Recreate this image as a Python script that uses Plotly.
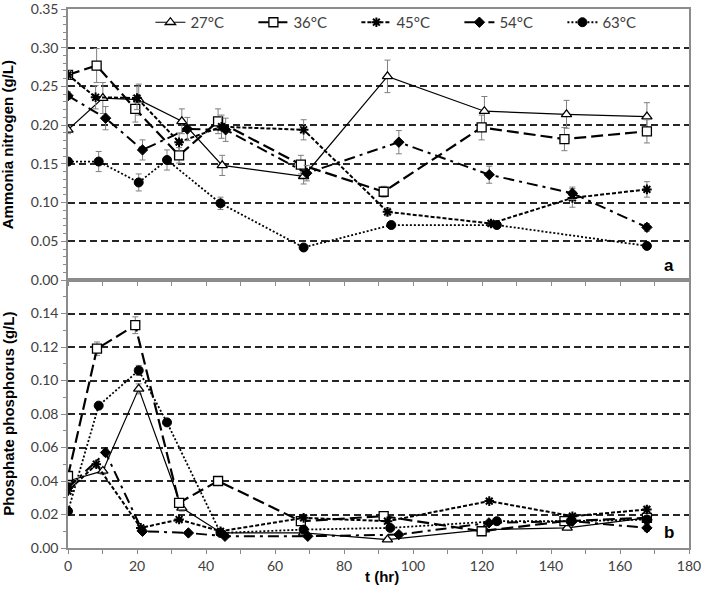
import plotly.graph_objects as go

# ---------------- data ----------------
series_names = ["27°C", "36°C", "45°C", "54°C", "63°C"]

# Ammonia nitrogen (g/L) - panel a
t_nh_27 = [0, 10.1, 20.5, 33, 44.7, 68.3, 92.6, 120.7, 144.5, 167.8]
nh_27 = [0.194, 0.235, 0.233, 0.205, 0.148, 0.134, 0.263, 0.218, 0.214, 0.211]
nh_27_err = [0.005, 0.020, 0.020, 0.016, 0.013, 0.010, 0.021, 0.019, 0.018, 0.018]

t_nh_36 = [0, 8.3, 19.5, 32.2, 43.5, 67.5, 91.5, 119.9, 143.9, 167.8]
nh_36 = [0.265, 0.277, 0.221, 0.161, 0.205, 0.149, 0.114, 0.197, 0.182, 0.192]
nh_36_err = [0.005, 0.022, 0.017, 0.010, 0.016, 0.012, 0.007, 0.016, 0.015, 0.015]

t_nh_45 = [0, 8, 20, 32.2, 44.5, 68.3, 92.6, 122.6, 146.2, 167.8]
nh_45 = [0.265, 0.236, 0.235, 0.178, 0.198, 0.194, 0.088, 0.073, 0.106, 0.117]
nh_45_err = [0.005, 0.015, 0.015, 0.012, 0.015, 0.013, 0.005, 0.004, 0.012, 0.010]

t_nh_54 = [0, 10.9, 21.6, 34.6, 45.7, 69.2, 95.9, 122.1, 146.2, 167.8]
nh_54 = [0.238, 0.209, 0.168, 0.195, 0.194, 0.138, 0.178, 0.136, 0.112, 0.068]
nh_54_err = [0.005, 0.015, 0.013, 0.015, 0.015, 0.010, 0.015, 0.011, 0.008, 0.005]

t_nh_63 = [0, 8.9, 20.5, 28.7, 44.2, 68.3, 93.7, 124.3, 167.8]
nh_63 = [0.153, 0.153, 0.126, 0.155, 0.099, 0.042, 0.071, 0.071, 0.044]
nh_63_err = [0.004, 0.013, 0.011, 0.013, 0.008, 0.003, 0.003, 0.003, 0.003]

# Phosphate phosphorus (g/L) - panel b
t_p_27 = [0, 10.1, 20.5, 33, 44.5, 68.3, 92.6, 120.7, 144.7, 167.8]
p_27 = [0.040, 0.046, 0.095, 0.024, 0.009, 0.009, 0.005, 0.011, 0.012, 0.018]
p_27_err = [0.002, 0.002, 0.003, 0.002, 0.001, 0.001, 0.001, 0.001, 0.001, 0.002]

t_p_36 = [0, 8.4, 19.5, 32.2, 43.5, 67.5, 91.5, 119.9, 143.9, 167.8]
p_36 = [0.043, 0.119, 0.133, 0.027, 0.040, 0.016, 0.019, 0.010, 0.016, 0.018]
p_36_err = [0.002, 0.004, 0.005, 0.002, 0.001, 0.001, 0.001, 0.001, 0.001, 0.002]

t_p_45 = [0, 8.2, 21.1, 32.2, 44.2, 68.3, 92.6, 122.1, 146.2, 167.8]
p_45 = [0.034, 0.050, 0.012, 0.017, 0.010, 0.018, 0.016, 0.028, 0.019, 0.023]
p_45_err = [0.002, 0.002, 0.001, 0.001, 0.001, 0.001, 0.001, 0.001, 0.001, 0.002]

t_p_54 = [0, 10.9, 21.6, 34.9, 45.5, 69.5, 95.9, 122, 146.2, 167.8]
p_54 = [0.036, 0.057, 0.010, 0.009, 0.007, 0.007, 0.008, 0.015, 0.016, 0.012]
p_54_err = [0.002, 0.002, 0.001, 0.001, 0.001, 0.001, 0.001, 0.001, 0.001, 0.002]

t_p_63 = [0, 8.9, 20.5, 28.7, 44.2, 68.3, 93.4, 124.3, 145.7, 167.8]
p_63 = [0.022, 0.085, 0.106, 0.075, 0.009, 0.011, 0.012, 0.016, 0.016, 0.017]
p_63_err = [0.002, 0.002, 0.003, 0.002, 0.001, 0.001, 0.001, 0.001, 0.001, 0.002]

x_tick_vals = [0, 20, 40, 60, 80, 100, 120, 140, 160, 180]
nh_tick_vals = [0.00, 0.05, 0.10, 0.15, 0.20, 0.25, 0.30, 0.35]
p_tick_vals = [0.00, 0.02, 0.04, 0.06, 0.08, 0.10, 0.12, 0.14]

# ---------------- styles ----------------
styles = [
    dict(dash="solid", width=1.2, symbol="triangle-up-open", size=9, mwidth=1.3),
    dict(dash="12px,5px", width=2.2, symbol="square-open", size=9, mwidth=1.3),
    dict(dash="4px,2px", width=2.0, symbol="asterisk-open", size=8, mwidth=2),
    dict(dash="11px,5px,3px,5px", width=2.0, symbol="diamond", size=8, mwidth=1),
    dict(dash="2px,2px", width=1.8, symbol="circle", size=9, mwidth=1),
]

nh_data = [(t_nh_27, nh_27, nh_27_err), (t_nh_36, nh_36, nh_36_err), (t_nh_45, nh_45, nh_45_err),
           (t_nh_54, nh_54, nh_54_err), (t_nh_63, nh_63, nh_63_err)]
p_data = [(t_p_27, p_27, p_27_err), (t_p_36, p_36, p_36_err), (t_p_45, p_45, p_45_err),
          (t_p_54, p_54, p_54_err), (t_p_63, p_63, p_63_err)]

fig = go.Figure()

def add_series(name, st, t, v, e, xa, ya, show):
    open_sym = st["symbol"].endswith("open") and st["symbol"] != "asterisk-open"
    fig.add_trace(go.Scatter(
        x=t, y=v, name=name, mode="lines+markers", showlegend=show,
        xaxis=xa, yaxis=ya,
        line=dict(color="black", width=st["width"], dash=st["dash"]),
        marker=dict(symbol=st["symbol"].replace("-open", "") if open_sym else st["symbol"],
                    size=st["size"],
                    color="white" if open_sym else "black",
                    line=dict(color="black", width=st["mwidth"])),
        error_y=dict(type="data", array=e, visible=True, color="#7f7f7f", thickness=1, width=3),
    ))

for name, st, (t, v, e) in zip(series_names, styles, nh_data):
    add_series(name, st, t, v, e, "x", "y", True)
for name, st, (t, v, e) in zip(series_names, styles, p_data):
    add_series(name, st, t, v, e, "x2", "y2", False)

tickfont = dict(family="Lato", size=14, color="#404040")
axis_line = "#8c8c8c"
grid_col = "#262626"

split = (548 - 280) / 539

fig.update_layout(
    width=701, height=591,
    margin=dict(l=68, r=12, t=9, b=43, autoexpand=False),
    paper_bgcolor="white", plot_bgcolor="white",
    font=dict(family="Lato", size=14, color="#404040"),
    xaxis=dict(domain=[0, 1], anchor="y", range=[0, 180.001], tickvals=x_tick_vals,
               showticklabels=False, ticks="outside", ticklen=4, tickcolor=axis_line,
               minor=dict(dtick=10, tick0=0, ticks="outside", ticklen=4, tickcolor=axis_line, showgrid=False),
               showline=True, linecolor=axis_line, linewidth=1.5, mirror=True,
               showgrid=False, zeroline=False),
    xaxis2=dict(domain=[0, 1], anchor="y2", range=[0, 180.001], tickvals=x_tick_vals,
                ticks="outside", ticklen=4, tickcolor=axis_line, tickfont=tickfont,
                ticklabeloverflow="allow",
                minor=dict(dtick=10, tick0=0, ticks="outside", ticklen=4, tickcolor=axis_line, showgrid=False),
                showline=True, linecolor=axis_line, linewidth=1.5, mirror=True,
                showgrid=False, zeroline=False),
    yaxis=dict(domain=[split, 1], anchor="x", range=[0, 0.35001], tickvals=nh_tick_vals,
               tickformat=".2f", tickfont=tickfont, ticks="outside", ticklen=5, tickcolor=axis_line,
               ticklabeloverflow="allow",
               minor=dict(dtick=0.01, tick0=0, ticks="outside", ticklen=3, tickcolor=axis_line, showgrid=False),
               showline=True, linecolor=axis_line, linewidth=1.5, mirror=True,
               showgrid=True, gridcolor=grid_col, gridwidth=1.6, griddash="7px,4px", zeroline=False),
    yaxis2=dict(domain=[0, split], anchor="x2", range=[0, 0.16], tickvals=p_tick_vals,
                tickformat=".2f", tickfont=tickfont, ticks="outside", ticklen=5, tickcolor=axis_line,
                minor=dict(dtick=0.01, tick0=0, ticks="outside", ticklen=3, tickcolor=axis_line, showgrid=False),
                showline=True, linecolor=axis_line, linewidth=1.5, mirror=True,
                showgrid=True, gridcolor=grid_col, gridwidth=1.6, griddash="7px,4px", zeroline=False),
    legend=dict(orientation="h", x=0.962, xanchor="right", y=0.975, yanchor="middle",
                bgcolor="rgba(0,0,0,0)", font=dict(family="Lato", size=15, color="#404040"),
                entrywidth=58, entrywidthmode="pixels", itemwidth=30, tracegroupgap=0),
    showlegend=True,
)

ann_font = dict(family="Liberation Sans", size=15, color="black")
fig.add_annotation(text="<b>Ammonia nitrogen (g/L)</b>", xref="paper", yref="paper",
                   x=-0.097, y=(1 + split) / 2, textangle=-90, showarrow=False, font=ann_font,
                   xanchor="center", yanchor="middle")
fig.add_annotation(text="<b>Phosphate phosphorus (g/L)</b>", xref="paper", yref="paper",
                   x=-0.097, y=split / 2, textangle=-90, showarrow=False, font=ann_font,
                   xanchor="center", yanchor="middle")
fig.add_annotation(text="<b>t (hr)</b>", xref="paper", yref="paper", x=0.505, y=-0.053,
                   showarrow=False, font=ann_font, xanchor="center", yanchor="middle")
fig.add_annotation(text="<b>a</b>", xref="paper", yref="paper", x=0.968, y=split + 0.026,
                   showarrow=False, font=dict(family="Liberation Sans", size=17, color="black"),
                   xanchor="center", yanchor="middle")
fig.add_annotation(text="<b>b</b>", xref="paper", yref="paper", x=0.968, y=0.028,
                   showarrow=False, font=dict(family="Liberation Sans", size=17, color="black"),
                   xanchor="center", yanchor="middle")

fig.write_html("out.html")
